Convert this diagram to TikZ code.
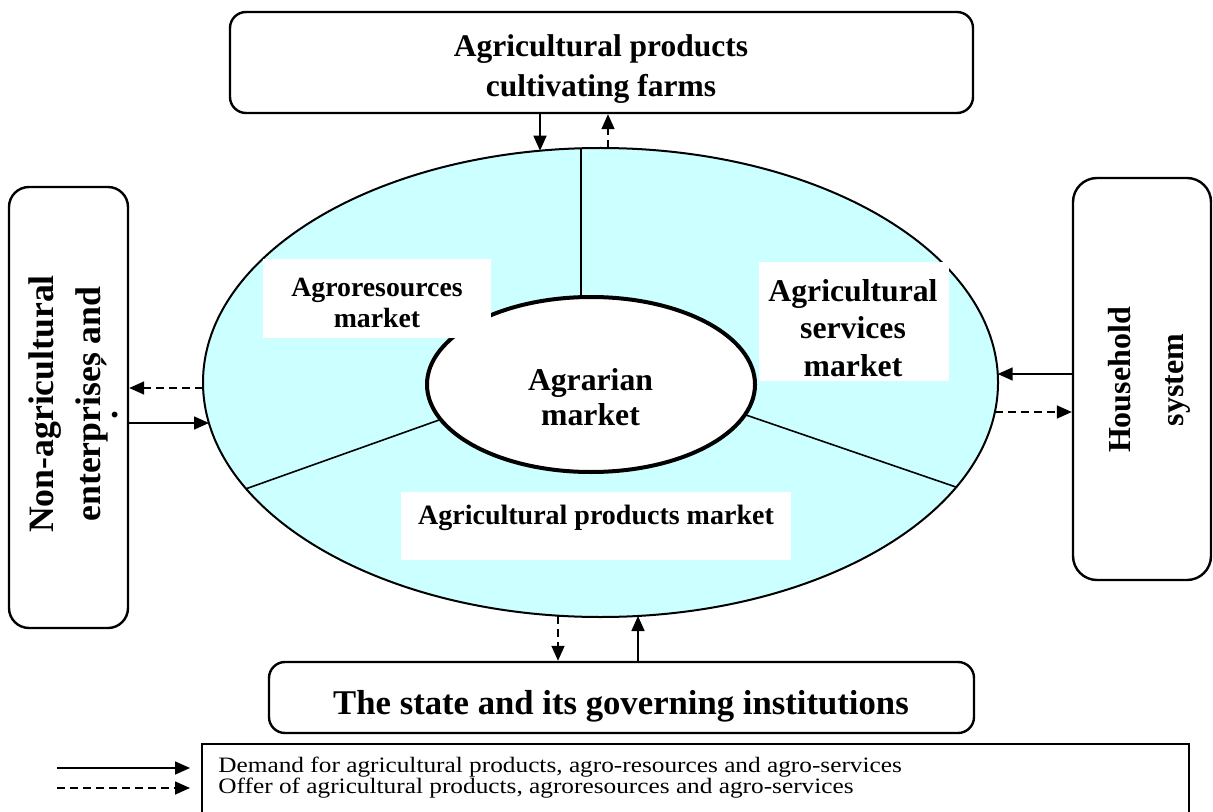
\documentclass[tikz,border=0pt]{standalone}
\usepackage{fontspec}
\setmainfont{Liberation Serif}
\newfontfamily\keyfont[FakeStretch=1.15]{Liberation Serif}
\usetikzlibrary{arrows.meta,shapes.geometric}
\definecolor{ringfill}{HTML}{CCFFFF}
\begin{document}
\begin{tikzpicture}[x=0.5pt,y=-0.5pt,
  box/.style={draw,line width=1.2pt,rounded corners=8pt,inner sep=0pt},
  patch/.style={fill=white,inner sep=0pt},
  bold/.style={align=center,inner sep=0pt},
  demand/.style={line width=0.8pt,-{Triangle[length=7.5pt,width=6.5pt]}},
  offer/.style={demand,dash pattern=on 4pt off 2.5pt},
  divider/.style={line width=0.8pt},
  keytext/.style={anchor=west,inner sep=0pt,font=\keyfont\fontsize{11}{12}\selectfont},
]
\useasboundingbox (0,0) rectangle (1213,812);

% outer ring of market segments
\node[ellipse,draw,line width=1pt,fill=ringfill,inner sep=0pt,
      minimum width=397.5pt,minimum height=234.5pt] (ring) at (600.5,382.5) {};
\begin{scope}
  \clip (600.5,382.5) ellipse [x radius=198.75pt,y radius=117.25pt];
  \draw[divider] (581,330) -- (581,130);
  \draw[divider] (470,409) -- (230,494.5);
  \draw[divider] (720,406.1) -- (990,498.7);
\end{scope}
% core
\node[ellipse,draw,line width=2pt,fill=white,inner sep=0pt,
      minimum width=164pt,minimum height=87.5pt] (core) at (591,384.5) {};
\node[bold,font=\bfseries\fontsize{15.85}{17.5}\selectfont] (coretext) at (590.5,397) {Agrarian\\market};

% segment labels
\node[patch,minimum width=114pt,minimum height=39.5pt] (agrobox) at (377,298.5) {};
\node[bold,font=\bfseries\fontsize{13.9}{15.5}\selectfont] (agrotext) at (377,303) {Agroresources\\market};
\node[patch,minimum width=95pt,minimum height=59.5pt] (servbox) at (854,321.5) {};
\node[bold,font=\bfseries\fontsize{15.85}{18.75}\selectfont] (servtext) at (853,328) {Agricultural\\services\\market};
\node[patch,minimum width=195pt,minimum height=34pt] (prodbox) at (596,526) {};
\node[bold,font=\bfseries\fontsize{14}{16}\selectfont] (prodtext) at (596,518) {Agricultural products market};

% participants
\node[box,minimum width=371.5pt,minimum height=50.5pt] (farms) at (601.5,62.5) {};
\node[bold,font=\bfseries\fontsize{15.75}{20}\selectfont] (farmstext) at (601,69) {Agricultural products\\cultivating farms};

\node[box,rounded corners=10pt,minimum width=59.5pt,minimum height=220.5pt] (firms) at (68.5,407.5) {};
\node[bold,rotate=90,font=\bfseries\fontsize{17.85}{23.5}\selectfont] (firmstext) at (68,404) {Non-agricultural\\enterprises and};
\node[rotate=90,inner sep=0pt,font=\bfseries\fontsize{17.85}{20}\selectfont] (firmsdot) at (115,415) {.};
\node[rotate=90,inner sep=0pt,font=\bfseries\fontsize{17.85}{20}\selectfont] (firmsmark) at (114,363) {´};

\node[box,rounded corners=12pt,minimum width=69pt,minimum height=201pt] (home) at (1142,379) {};
\node[bold,rotate=90,font=\bfseries\fontsize{16}{26.5}\selectfont] (hometext) at (1149,380) {Household\\system};

\node[box,minimum width=352.5pt,minimum height=35.5pt] (state) at (621.5,697.5) {};
\node[bold,font=\bfseries\fontsize{17.35}{20}\selectfont] (statetext) at (621,706) {The state and its governing institutions};

% flows between the participants and the market
\coordinate (topIn) at (540,150.7);
\coordinate (topOut) at (608,148);
\draw[demand] (farms.south -| topIn) -- (topIn);
\draw[offer] (topOut) -- (farms.south -| topOut);

\coordinate (botOut) at (558,615.7);
\coordinate (botIn) at (638,616);
\draw[offer] (botOut) -- (state.north -| botOut);
\draw[demand] (state.north -| botIn) -- (botIn);

\coordinate (leftOut) at (203.1,388);
\coordinate (leftIn) at (209,423);
\draw[offer] (leftOut) -- (firms.east |- leftOut);
\draw[demand] (firms.east |- leftIn) -- (leftIn);

\coordinate (rightIn) at (997.7,374);
\coordinate (rightOut) at (994.8,412);
\draw[demand] (home.west |- rightIn) -- (rightIn);
\draw[offer] (rightOut) -- (home.west |- rightOut);

% legend
\node[draw,line width=1.2pt,inner sep=0pt,anchor=north west,
      minimum width=493.5pt,minimum height=60pt] (legend) at (201,743) {};
\coordinate (keyAs) at (57,768);
\coordinate (keyAe) at (190,768);
\coordinate (keyBs) at (57,788);
\coordinate (keyBe) at (190,788);
\draw[demand] (keyAs) -- (keyAe);
\draw[offer] (keyBs) -- (keyBe);
\node[keytext] (keyA) at (218,767)
  {Demand for agricultural products, agro-resources and agro-services};
\node[keytext] (keyB) at (218,788)
  {Offer of agricultural products, agroresources and agro-services};
\end{tikzpicture}
\end{document}
